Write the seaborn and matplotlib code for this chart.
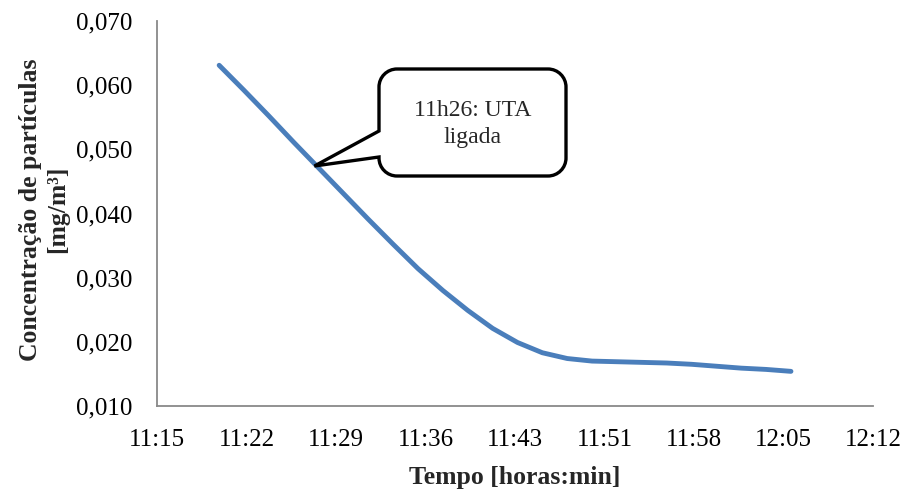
import numpy as np
import pandas as pd
import matplotlib
matplotlib.use("Agg")
import matplotlib.pyplot as plt
import matplotlib.dates as mdates
from matplotlib.path import Path
from matplotlib.patches import PathPatch
import seaborn as sns

# Particle concentration readings (mg/m3), one every 2 minutes
times = ["11:20", "11:22", "11:24", "11:26", "11:28", "11:30", "11:32", "11:34",
         "11:36", "11:38", "11:40", "11:42", "11:44", "11:46", "11:48", "11:50",
         "11:52", "11:54", "11:56", "11:58", "12:00", "12:02", "12:04", "12:06"]
concentration = [0.0631, 0.0592, 0.0552, 0.0511, 0.0471, 0.0431, 0.0391, 0.0352,
                 0.0314, 0.0280, 0.0249, 0.0221, 0.0199, 0.0183, 0.0174, 0.0170,
                 0.0169, 0.0168, 0.0167, 0.0165, 0.0162, 0.0159, 0.0157, 0.0154]

x_tick_labels = ["11:15", "11:22", "11:29", "11:36", "11:43", "11:51", "11:58", "12:05", "12:12"]
y_ticks = [0.010, 0.020, 0.030, 0.040, 0.050, 0.060, 0.070]
y_tick_labels = ["0,010", "0,020", "0,030", "0,040", "0,050", "0,060", "0,070"]

callout_text = "11h26: UTA\nligada"
callout_time = "11:27:40"
callout_value = 0.0474

day = "2000-01-01 "
df = pd.DataFrame({
    "Tempo": pd.to_datetime([day + t for t in times]),
    "Concentracao": concentration,
})

sns.set_theme(style="white")
plt.rcParams["font.family"] = ["Liberation Serif", "DejaVu Serif"]

W, H = 906, 491
fig = plt.figure(figsize=(W / 100, H / 100), dpi=100)
ax = fig.add_axes([157 / W, 1 - 406 / H, (873 - 157) / W, (406 - 21) / H])

sns.lineplot(data=df, x="Tempo", y="Concentracao", ax=ax,
             color="#4A7EBB", linewidth=3.5, solid_capstyle="round",
             solid_joinstyle="round")

# Time axis: 7.2-minute major unit starting at 11:15
x_ticks = pd.date_range(day + "11:15:00", periods=len(x_tick_labels), freq="432s")
ax.set_xlim(x_ticks[0], x_ticks[-1])
ax.set_xticks(x_ticks)
ax.set_xticklabels(x_tick_labels)
ax.set_ylim(y_ticks[0], y_ticks[-1])
ax.set_yticks(y_ticks)
ax.set_yticklabels(y_tick_labels)

gray = "#898989"
for side in ["top", "right"]:
    ax.spines[side].set_visible(False)
for side in ["left", "bottom"]:
    ax.spines[side].set_color(gray)
    ax.spines[side].set_linewidth(1.3)
ax.tick_params(axis="both", which="major", direction="out", length=5.5, width=1.3,
               color=gray, labelsize=18, labelcolor="black")
ax.tick_params(axis="y", pad=12.5)
ax.tick_params(axis="x", pad=11)
ax.grid(False)

ax.set_ylabel("Concentração de partículas\n[mg/m³]", fontsize=18.5,
              fontweight="bold", linespacing=1.25)
ax.yaxis.set_label_coords(-0.158, 0.51)
ax.yaxis.label.set_verticalalignment("center")
ax.set_xlabel("Tempo [horas:min]", fontsize=18.5, fontweight="bold")
ax.xaxis.set_label_coords(0.5, -0.185)
ax.xaxis.label.set_verticalalignment("center")

# Speech-bubble callout (built in pixel units, tip anchored on the curve)
fig.canvas.draw()
tip_disp = ax.transData.transform(
    (mdates.date2num(pd.Timestamp(day + callout_time)), callout_value))
tx, ty = tip_disp[0], H - tip_disp[1]   # to top-down pixel coords

x0, x1, y0, y1, r = 379, 566, 69, 176, 18
b_top, b_bot = 131, 157
k = 0.5523 * r
pts = [
    ((x0 + r, y0), Path.MOVETO),
    ((x1 - r, y0), Path.LINETO),
    ((x1 - r + k, y0), Path.CURVE4), ((x1, y0 + r - k), Path.CURVE4), ((x1, y0 + r), Path.CURVE4),
    ((x1, y1 - r), Path.LINETO),
    ((x1, y1 - r + k), Path.CURVE4), ((x1 - r + k, y1), Path.CURVE4), ((x1 - r, y1), Path.CURVE4),
    ((x0 + r, y1), Path.LINETO),
    ((x0 + r - k, y1), Path.CURVE4), ((x0, y1 - r + k), Path.CURVE4), ((x0, y1 - r), Path.CURVE4),
    ((x0, b_bot), Path.LINETO),
    ((tx, ty), Path.LINETO),
    ((x0, b_top), Path.LINETO),
    ((x0, y0 + r), Path.LINETO),
    ((x0, y0 + r - k), Path.CURVE4), ((x0 + r - k, y0), Path.CURVE4), ((x0 + r, y0), Path.CURVE4),
    ((x0 + r, y0), Path.CLOSEPOLY),
]
verts = [(px, H - py) for (px, py), _ in pts]
codes = [c for _, c in pts]
bubble = PathPatch(Path(verts, codes), facecolor="white", edgecolor="black",
                   linewidth=2.4, joinstyle="miter", transform=None, zorder=5)
fig.add_artist(bubble)
fig.text((x0 + x1) / 2 / W, 1 - 124 / H, callout_text, ha="center",
         va="center", fontsize=17, linespacing=1.4, zorder=6)

fig.savefig("out.png", dpi=100)
